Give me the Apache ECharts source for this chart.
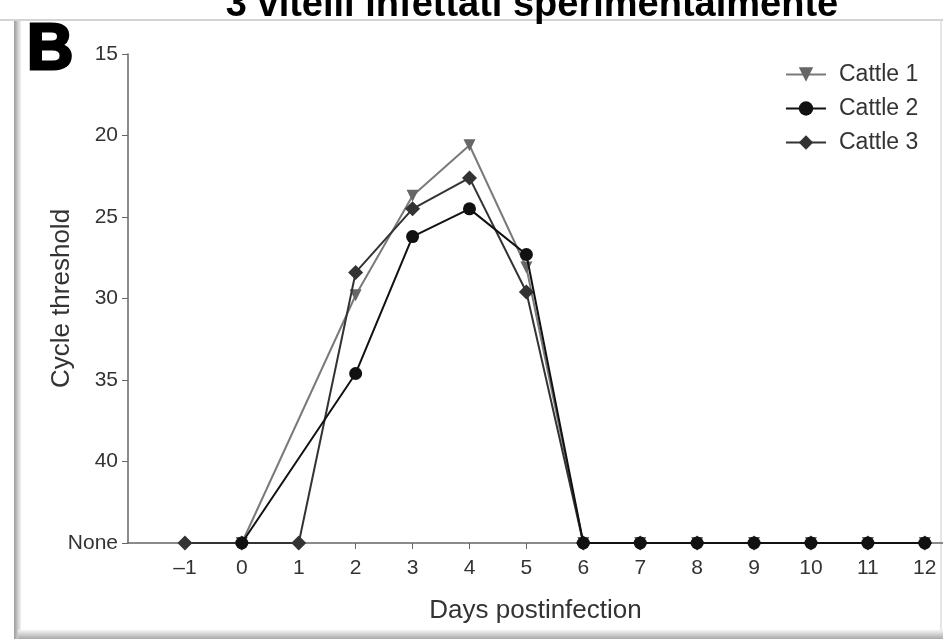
<!DOCTYPE html>
<html>
<head>
<meta charset="utf-8">
<script src="https://cdn.jsdelivr.net/npm/echarts@6/dist/echarts.min.js"></script>
<style>
html,body{margin:0;padding:0;background:#fff;}
#chart{width:943px;height:639px;}
</style>
</head>
<body>
<div id="chart"></div>
<script>
// Data (Ct value; 45 = "None")
const NONE = 45;
const seriesNames = ['Cattle 1', 'Cattle 2', 'Cattle 3'];
const days1 = [0, 2, 3, 4, 5, 6, 7, 8, 9, 10, 11, 12];
const cattle1 = [NONE, 29.8, 23.7, 20.6, 28.1, NONE, NONE, NONE, NONE, NONE, NONE, NONE];
const days2 = [0, 2, 3, 4, 5, 6, 7, 8, 9, 10, 11, 12];
const cattle2 = [NONE, 34.6, 26.2, 24.5, 27.3, NONE, NONE, NONE, NONE, NONE, NONE, NONE];
const days3 = [-1, 0, 1, 2, 3, 4, 5, 6, 7, 8, 9, 10, 11, 12];
const cattle3 = [NONE, NONE, NONE, 28.4, 24.5, 22.6, 29.6, NONE, NONE, NONE, NONE, NONE, NONE, NONE];
const xTicks = [-1, 0, 1, 2, 3, 4, 5, 6, 7, 8, 9, 10, 11, 12];
const yTicks = [15, 20, 25, 30, 35, 40, 45];
const titleText = '3 vitelli infettati sperimentalmente';

const FONT = '"Liberation Sans", Arial, sans-serif';
const pair = (xs, ys) => xs.map((x, i) => [x, ys[i]]);

const chart = echarts.init(document.getElementById('chart'), null, {renderer: 'canvas'});
chart.setOption({
  animation: false,
  backgroundColor: '#fff',
  grid: {left: 128, right: 0, top: 54, bottom: 96, containLabel: false},
  legend: {
    data: seriesNames,
    orient: 'vertical',
    left: 780,
    top: 58,
    itemWidth: 40,
    itemHeight: 18,
    itemGap: 11,
    textStyle: {fontFamily: FONT, fontSize: 23, color: '#333', padding: [0, 0, 0, 8]}
  },
  xAxis: {
    type: 'value',
    min: -2,
    max: 12.32,
    interval: 1,
    name: 'Days postinfection',
    nameLocation: 'middle',
    nameGap: 55,
    nameMoveOverlap: false,
    nameTextStyle: {fontFamily: FONT, fontSize: 26, color: '#333'},
    axisLine: {show: true, onZero: false, lineStyle: {color: '#666', width: 1.5}},
    axisTick: {show: true, length: 6, customValues: xTicks, lineStyle: {color: '#666'}},
    axisLabel: {
      customValues: xTicks,
      margin: 15,
      fontFamily: FONT, fontSize: 21, color: '#333',
      formatter: v => (xTicks.indexOf(v) < 0 ? '' : (v < 0 ? '\u2013' + Math.abs(v) : String(v)))
    },
    splitLine: {show: false}
  },
  yAxis: {
    type: 'value',
    inverse: true,
    min: 15,
    max: 45,
    interval: 5,
    name: 'Cycle threshold',
    nameLocation: 'middle',
    nameRotate: 90,
    nameGap: 53,
    nameMoveOverlap: false,
    nameTextStyle: {fontFamily: FONT, fontSize: 26, color: '#333'},
    axisLine: {show: true, onZero: false, lineStyle: {color: '#666', width: 1.5}},
    axisTick: {show: true, length: 6, lineStyle: {color: '#666'}},
    axisLabel: {
      margin: 10,
      fontFamily: FONT, fontSize: 21, color: '#333',
      formatter: v => (v === NONE ? 'None' : String(v))
    },
    splitLine: {show: false}
  },
  series: [
    {
      name: seriesNames[0], type: 'line', data: pair(days1, cattle1),
      symbol: 'triangle', symbolRotate: 180, symbolSize: 12,
      lineStyle: {color: '#7a7a7a', width: 2},
      itemStyle: {color: '#666'}, z: 2
    },
    {
      name: seriesNames[2], type: 'line', data: pair(days3, cattle3),
      symbol: 'diamond', symbolSize: 15,
      lineStyle: {color: '#333', width: 2},
      itemStyle: {color: '#333'}, z: 3
    },
    {
      name: seriesNames[1], type: 'line', data: pair(days2, cattle2),
      symbol: 'circle', symbolSize: 13,
      lineStyle: {color: '#111', width: 2},
      itemStyle: {color: '#111'}, z: 4
    }
  ],
  graphic: [
    // frame shadows
    {type: 'rect', left: 0, top: 19, z: -1, shape: {width: 943, height: 2},
     style: {fill: '#d4d4d4'}},
    {type: 'rect', left: 14, top: 21, z: -1, shape: {width: 7, height: 618},
     style: {fill: new echarts.graphic.LinearGradient(0, 0, 1, 0, [
       {offset: 0, color: '#9a9a9a'}, {offset: 0.5, color: '#c8c8c8'}, {offset: 1, color: '#f2f2f2'}])}},
    {type: 'rect', left: 18, top: 630, z: -1, shape: {width: 925, height: 9},
     style: {fill: new echarts.graphic.LinearGradient(0, 0, 0, 1, [
       {offset: 0, color: '#f4f4f4'}, {offset: 0.5, color: '#cfcfcf'}, {offset: 1, color: '#a9a9a9'}])}},
    {type: 'rect', left: 940, top: 21, z: -1, shape: {width: 2, height: 610},
     style: {fill: '#e6e6e6'}},
    // title (cut off at the top of the view)
    {type: 'text', x: 532, y: -13, z: 10,
     style: {text: titleText, font: 'bold 38px ' + FONT, fill: '#000', align: 'center', verticalAlign: 'top'}},
    // panel letter
    {type: 'text', x: 27, y: 19, z: 10,
     style: {text: 'B', font: 'bold 64px ' + FONT, fill: '#000', stroke: '#000', lineWidth: 3,
             align: 'left', verticalAlign: 'top'}}
  ]
});
</script>
</body>
</html>
